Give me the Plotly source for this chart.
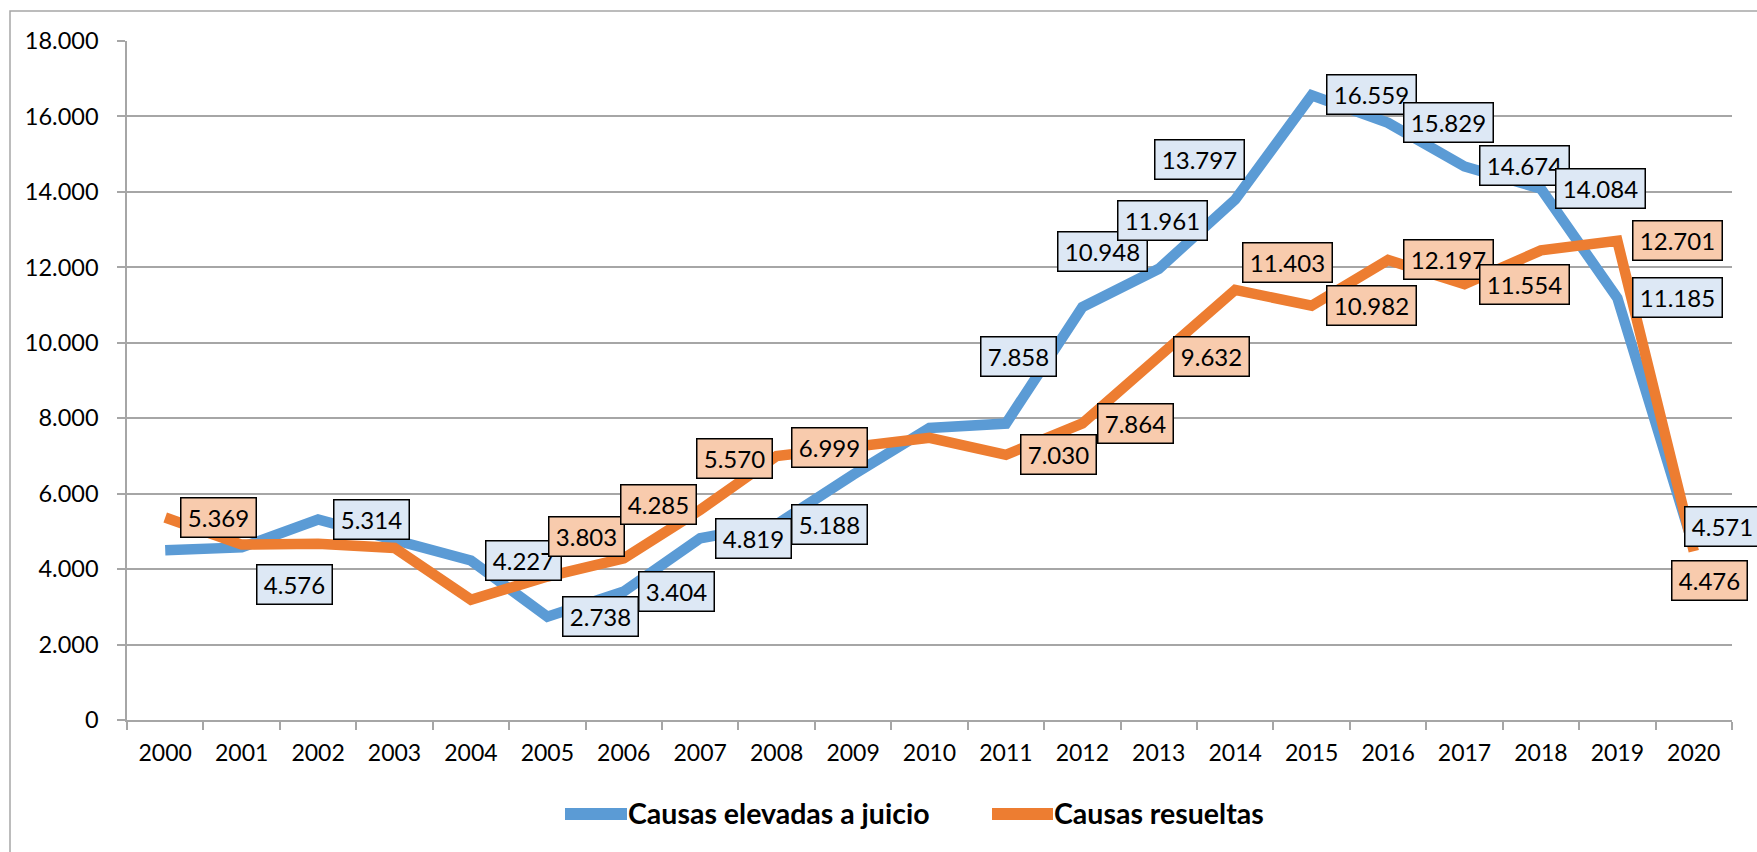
import plotly.graph_objects as go

# ---- data ----
years = [str(y) for y in range(2000, 2021)]
causas_elevadas = [4500, 4576, 5314, 4750, 4227, 2738, 3404, 4819, 5188, 6500, 7740,
                   7858, 10948, 11961, 13797, 16559, 15829, 14674, 14084, 11185, 4571]
causas_resueltas = [5369, 4650, 4670, 4560, 3190, 3803, 4285, 5570, 6999, 7220, 7480,
                    7030, 7864, 9632, 11403, 10982, 12197, 11554, 12450, 12701, 4476]
series_names = ["Causas elevadas a juicio", "Causas resueltas"]

# ---- label placement (pixel shifts of box centres from the point; None = no label) ----
blue_label_shift = [None, (53, -37), (53, 0), None, (53, 0), (53, 0), (53, 0), (53, 0), (53, 0),
                    None, None, (13, 67), (20, 56), (4, 48.5), (-36, 40.5), (59.5, 0.5),
                    (60, 0.5), (60, 0.5), (60, 0.5), (60, 0.5), (29, 21)]
orange_label_shift = [(53, 0), None, None, None, None, (39.5, 40.5), (34.3, 53.5), (34.4, 51),
                      (53, 8.3), None, None, (53, 0), (53, 0), (53, 0), (52, 27), (59.5, 0),
                      (60, 0), (60, 0), None, (60, 0), (15.7, -29.3)]

BLUE = "#5b9bd5"
ORANGE = "#ed7d31"
BLUE_FILL = "#dde8f5"
ORANGE_FILL = "#f8cbad"
GRID = "#a6a6a6"
FONT = "Lato"

W, H = 1757, 852
ML, MR, MT, MB = 127, 25, 41, 132
PW, PH = W - ML - MR, H - MT - MB


def px_x(px):
    return (px - ML) / PW


def px_y(py):
    return (H - MB - py) / PH


def fmt(v):
    return f"{v:,}".replace(",", ".")


fig = go.Figure()
fig.add_trace(go.Scatter(x=years, y=causas_elevadas, mode="lines", name=series_names[0],
                         line=dict(color=BLUE, width=10.5), cliponaxis=False))
fig.add_trace(go.Scatter(x=years, y=causas_resueltas, mode="lines", name=series_names[1],
                         line=dict(color=ORANGE, width=10.5), cliponaxis=False))

annotations = []
for vals, shifts, fill in ((causas_elevadas, blue_label_shift, BLUE_FILL),
                           (causas_resueltas, orange_label_shift, ORANGE_FILL)):
    for i, (v, s) in enumerate(zip(vals, shifts)):
        if s is None:
            continue
        txt = fmt(v)
        annotations.append(dict(
            x=i, y=v, xref="x", yref="y", text=txt, showarrow=False,
            xanchor="center", yanchor="middle", xshift=s[0], yshift=s[1],
            font=dict(family=FONT, size=24, color="black"),
            bgcolor=fill, bordercolor="black", borderwidth=1.5, borderpad=0,
            width=74 if len(txt) <= 5 else 88, height=38, align="center"))

# custom legend
legend_items = [(565, 627, BLUE, series_names[0]), (992, 1053, ORANGE, series_names[1])]
shapes = []
for x0, x1, col, name in legend_items:
    shapes.append(dict(type="line", xref="paper", yref="paper",
                       x0=px_x(x0), x1=px_x(x1), y0=px_y(814), y1=px_y(814),
                       line=dict(color=col, width=12)))
    annotations.append(dict(x=px_x(x1), y=px_y(813), xref="paper", yref="paper",
                            text=f"<b>{name}</b>", showarrow=False, xanchor="left",
                            yanchor="middle", font=dict(family=FONT, size=28.5, color="black"),
                            borderpad=0))

# outer chart border (extends past the right and bottom edges)
shapes.append(dict(type="rect", xref="paper", yref="paper", layer="below",
                   x0=px_x(10), x1=px_x(1900), y0=px_y(1000), y1=px_y(11),
                   line=dict(color=GRID, width=1.5), fillcolor="rgba(0,0,0,0)"))

fig.update_layout(
    width=W, height=H, margin=dict(l=ML, r=MR, t=MT, b=MB),
    plot_bgcolor="white", paper_bgcolor="white", showlegend=False,
    separators=",.", font=dict(family=FONT, color="black"),
    annotations=annotations, shapes=shapes,
)
fig.update_xaxes(type="category", range=[-0.5, 20.5], showgrid=False, showline=True,
                 linecolor=GRID, linewidth=1.5, ticks="outside", ticklen=8, tickcolor=GRID,
                 tickwidth=1.5, tickson="boundaries", tickfont=dict(family=FONT, size=23, color="black"),
                 ticklabelstandoff=12)
fig.update_yaxes(range=[0, 18000], dtick=2000, tick0=0, showgrid=True, gridcolor=GRID,
                 gridwidth=1.5, showline=True, linecolor=GRID, linewidth=1.5, ticks="outside",
                 ticklen=8, tickcolor=GRID, tickwidth=1.5, zeroline=False, tickformat=",.0f",
                 tickfont=dict(family=FONT, size=23.5, color="black"), ticklabelstandoff=14)

fig.write_html("out.html", config={"displayModeBar": False},
               post_script="document.body.style.margin='0';")
